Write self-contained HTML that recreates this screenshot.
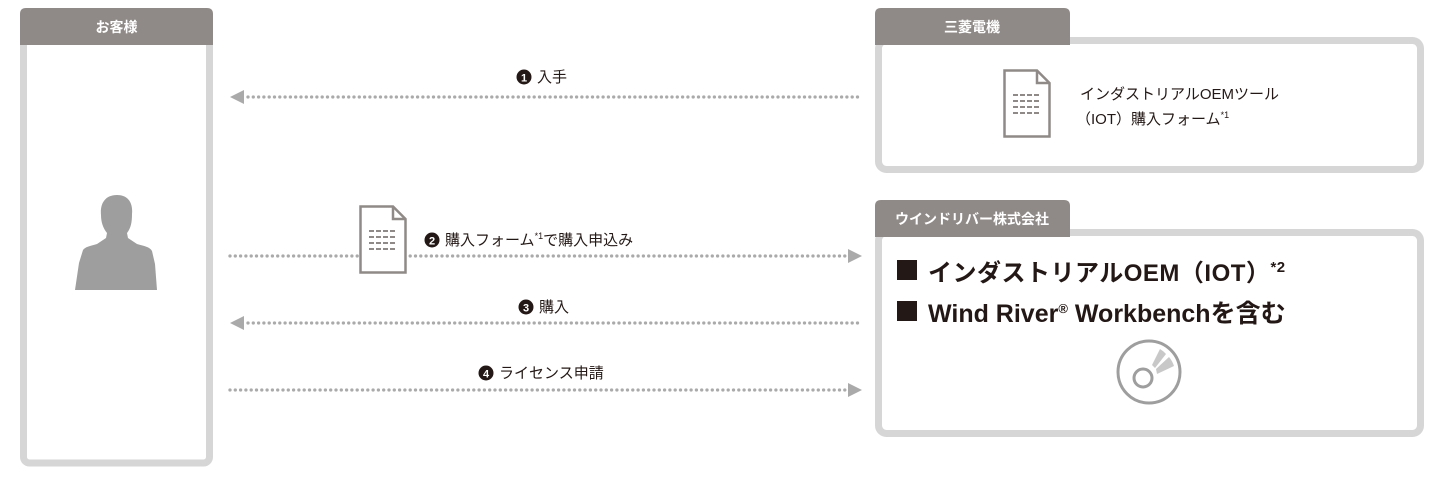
<!DOCTYPE html>
<html><head><meta charset="utf-8"><style>
body{margin:0;background:#fff;}
svg{display:block;}
text{font-family:"Liberation Sans","Noto Sans CJK JP",sans-serif;}
</style></head><body>
<svg width="1440" height="480" viewBox="0 0 1440 480" xmlns="http://www.w3.org/2000/svg">
<defs>
<g id="doc">
<path d="M1.5 1.5 H34 L46.5 14 V67.5 H1.5 Z" fill="#fff" stroke="#8f8a87" stroke-width="2.5"/>
<path d="M34 1.5 V14 H46.5" fill="none" stroke="#8f8a87" stroke-width="2.5"/>
<g stroke="#8f8a87" stroke-width="2" stroke-dasharray="5 2">
<line x1="10" y1="26" x2="38" y2="26"/><line x1="10" y1="32" x2="38" y2="32"/>
<line x1="10" y1="38" x2="38" y2="38"/><line x1="10" y1="44" x2="38" y2="44"/>
</g>
</g>
</defs>
<!-- customer -->
<rect x="23.5" y="30" width="186" height="433" rx="6" fill="#fff" stroke="#d6d6d6" stroke-width="7"/>
<path d="M20 45 V14 Q20 8 26 8 H207 Q213 8 213 14 V45 Z" fill="#8f8a87"/>
<text x="116.5" y="32" text-anchor="middle" font-size="14" font-weight="bold" fill="#fff">お客様</text>
<!-- person -->
<path d="M117 195 C104 195 100 205 101 215 C101 222 103 228 107 233 L106 238 L97 244 C90 246 85 247 83 250 L79 263 L75 290 H157 L155 264 L152 251 C150 247 144 246 137 244 L128 238 L127 233 C131 228 132 222 132 214 C133 204 129 195 117 195 Z" fill="#9e9e9e"/>
<!-- mitsubishi -->
<rect x="878.5" y="40.5" width="542" height="129" rx="8" fill="#fff" stroke="#d6d6d6" stroke-width="7"/>
<path d="M875 45 V14 Q875 8 881 8 H1064 Q1070 8 1070 14 V45 Z" fill="#8f8a87"/>
<text x="972" y="32" text-anchor="middle" font-size="14" font-weight="bold" fill="#fff">三菱電機</text>
<use href="#doc" x="1003" y="69"/>
<text x="1080" y="99" font-size="15" fill="#231815">インダストリアルOEMツール</text>
<text x="1076" y="124" font-size="15" fill="#231815">（IOT）購入フォーム<tspan font-size="9" dy="-6">*1</tspan></text>
<!-- wind river -->
<rect x="878.5" y="232.5" width="542" height="201" rx="8" fill="#fff" stroke="#d6d6d6" stroke-width="7"/>
<path d="M875 237 V206 Q875 200 881 200 H1064 Q1070 200 1070 206 V237 Z" fill="#8f8a87"/>
<text x="972" y="224" text-anchor="middle" font-size="14" font-weight="bold" fill="#fff">ウインドリバー株式会社</text>
<rect x="897" y="260" width="20" height="20" fill="#231815"/>
<text x="928" y="281" font-size="24" font-weight="bold" fill="#231815" letter-spacing="0.5">インダストリアルOEM（IOT）<tspan font-size="15" dy="-9">*2</tspan></text>
<rect x="897" y="301" width="20" height="20" fill="#231815"/>
<text x="928" y="322" font-size="25" font-weight="bold" fill="#231815">Wind River<tspan font-size="13" dy="-9">®</tspan><tspan dy="9"> Workbenchを含む</tspan></text>
<circle cx="1149" cy="372" r="31" fill="#fff" stroke="#9e9e9e" stroke-width="3"/>
<circle cx="1143" cy="378" r="9" fill="#fff" stroke="#9e9e9e" stroke-width="3"/>
<path d="M1152 365 L1160 349 A27 27 0 0 1 1166 354 L1155 368 Z" fill="#c8c8c8"/>
<path d="M1156 369 L1169 357 A27 27 0 0 1 1174 366 L1157 374 Z" fill="#c8c8c8"/>
<!-- arrows -->
<g stroke="#aaa" stroke-width="3.3" stroke-linecap="round" stroke-dasharray="0 5.3">
<line x1="248" y1="97" x2="862" y2="97"/>
<line x1="230" y1="256" x2="845" y2="256"/>
<line x1="248" y1="323" x2="862" y2="323"/>
<line x1="230" y1="390" x2="845" y2="390"/>
</g>
<g fill="#aaa">
<path d="M230 97 L244 90 V104 Z"/>
<path d="M862 256 L848 249 V263 Z"/>
<path d="M230 323 L244 316 V330 Z"/>
<path d="M862 390 L848 383 V397 Z"/>
</g>
<use href="#doc" x="359" y="205"/>
<g font-size="15" fill="#231815">
<circle cx="524" cy="77" r="7.5" fill="#231815"/><text x="524" y="81.5" text-anchor="middle" font-size="11" font-weight="bold" fill="#fff">1</text>
<text x="537" y="82">入手</text>
<circle cx="432" cy="240" r="7.5" fill="#231815"/><text x="432" y="244.5" text-anchor="middle" font-size="11" font-weight="bold" fill="#fff">2</text>
<text x="445" y="245">購入フォーム<tspan font-size="9" dy="-6">*1</tspan><tspan dy="6">で購入申込み</tspan></text>
<circle cx="526" cy="307" r="7.5" fill="#231815"/><text x="526" y="311.5" text-anchor="middle" font-size="11" font-weight="bold" fill="#fff">3</text>
<text x="539" y="312">購入</text>
<circle cx="486" cy="373" r="7.5" fill="#231815"/><text x="486" y="377.5" text-anchor="middle" font-size="11" font-weight="bold" fill="#fff">4</text>
<text x="499" y="378">ライセンス申請</text>
</g>
</svg>
</body></html>
